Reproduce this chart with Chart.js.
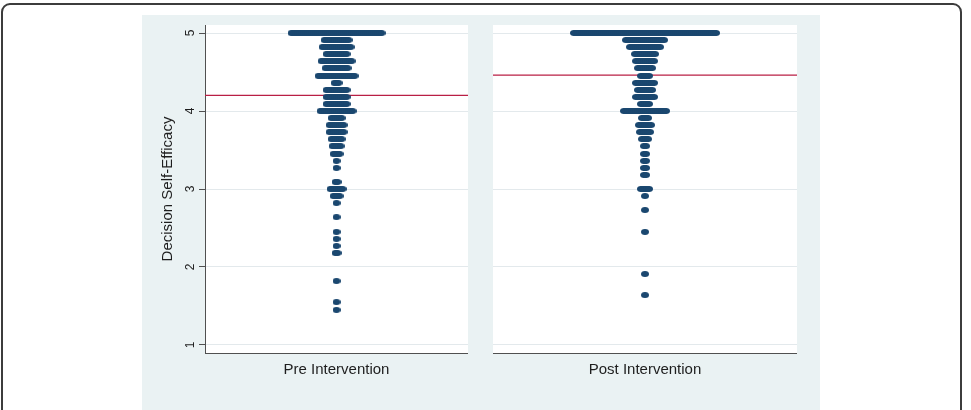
<!DOCTYPE html>
<html>
<head>
<meta charset="utf-8">
<title>Decision Self-Efficacy dot plot</title>
<script src="https://cdn.jsdelivr.net/npm/chart.js@4.4.1/dist/chart.umd.min.js"></script>
<style>
  html, body { margin: 0; padding: 0; background: #fff; }
  body { width: 971px; height: 410px; position: relative; overflow: hidden; }
  .frame  { position: absolute; left: 1px; top: 3px; width: 957px; height: 440px;
            border: 2px solid #3c3c3c; border-radius: 9px; }
  .region { position: absolute; left: 142px; top: 15px; width: 678px; height: 400px; background: #eaf2f3; }
  .panel  { position: absolute; top: 25px; }
  #preWrap  { left: 141px; }
  #postWrap { left: 493px; }
</style>
</head>
<body>
<div class="frame"></div>
<div class="region"></div>
<div class="panel" id="preWrap"><canvas id="preChart" width="327" height="363"></canvas></div>
<div class="panel" id="postWrap"><canvas id="postChart" width="304" height="363"></canvas></div>

<script>
// ── Data (score levels and number of respondents at each level) ──────
const preValues  = [5.00, 4.91, 4.82, 4.73, 4.64, 4.55, 4.45, 4.36, 4.27, 4.18, 4.09, 4.00,
                    3.91, 3.82, 3.73, 3.64, 3.55, 3.45, 3.36, 3.27, 3.09, 3.00, 2.91, 2.82,
                    2.64, 2.45, 2.36, 2.27, 2.18, 1.82, 1.55, 1.45];
const preCounts  = [46, 13, 15, 11, 16, 12, 19, 3, 11, 11, 11, 17,
                    6, 8, 8, 6, 5, 4, 1, 1, 2, 7, 4, 1,
                    1, 1, 1, 1, 2, 1, 1, 1];
const postValues = [5.00, 4.91, 4.82, 4.73, 4.64, 4.55, 4.45, 4.36, 4.27, 4.18, 4.09, 4.00,
                    3.91, 3.82, 3.73, 3.64, 3.55, 3.45, 3.36, 3.27, 3.18, 3.00, 2.91, 2.73,
                    2.45, 1.91, 1.64];
const postCounts = [72, 20, 16, 11, 10, 8, 5, 10, 8, 10, 5, 22,
                    4, 7, 6, 4, 2, 2, 2, 2, 2, 5, 1, 1,
                    1, 1, 1];
const preMean    = 4.20;
const postMean   = 4.46;
const groupLabels = ['Pre Intervention', 'Post Intervention'];
const yTicks     = [1, 2, 3, 4, 5];

// ── Look ──────────────────────────────────────────────────────────────
const FONT  = "'Liberation Sans', Arial, sans-serif";
const NAVY  = '#1a476f';
const RED   = '#b91f45';
const AXIS  = '#505050';
const GRID  = '#e3e9ec';
const TEXT  = '#1e1e1e';
const DOT_W = 8, DOT_H = 6;     // marker size, px
const DOT_STEP = 2;             // horizontal px between stacked dots
const Y_MIN = 0.8974, Y_MAX = 5.1026;

Chart.defaults.font.family = FONT;

function dotImage() {
  const c = document.createElement('canvas');
  c.width = DOT_W; c.height = DOT_H;
  const g = c.getContext('2d');
  g.fillStyle = NAVY;
  g.beginPath();
  g.ellipse(DOT_W / 2, DOT_H / 2, DOT_W / 2, DOT_H / 2, 0, 0, Math.PI * 2);
  g.fill();
  return c;
}
const DOT = dotImage();

// stack n dots side by side, centred on x = 0
function dotPoints(values, counts) {
  const pts = [];
  values.forEach((v, k) => {
    const n = counts[k];
    for (let i = 0; i < n; i++) pts.push({ x: i - (n - 1) / 2, y: v });
  });
  return pts;
}

// white plot area behind the marks
const panelBg = {
  id: 'panelBg',
  beforeDraw(chart) {
    const { ctx, chartArea: a } = chart;
    ctx.save();
    ctx.fillStyle = '#fff';
    ctx.fillRect(a.left, a.top, a.right - a.left, a.bottom - a.top);
    ctx.restore();
  }
};

// ── One panel ─────────────────────────────────────────────────────────
function makePanel(id, values, counts, mean, label, showY) {
  const canvas = document.getElementById(id);
  const yW = showY ? 64 : 0;
  const half = (canvas.width - yW) / (2 * DOT_STEP);

  return new Chart(canvas, {
    type: 'scatter',
    data: {
      datasets: [
        {
          type: 'scatter',
          data: dotPoints(values, counts),
          pointStyle: DOT,
          pointRadius: 4,
          pointHoverRadius: 4,
          order: 0,
        },
        {
          type: 'line',
          data: [{ x: -half, y: mean }, { x: half, y: mean }],
          borderColor: RED,
          borderWidth: 1.3,
          pointRadius: 0,
          fill: false,
          order: 1,
        }
      ]
    },
    options: {
      responsive: false,
      animation: false,
      layout: { padding: 0, autoPadding: false },
      plugins: { legend: { display: false }, tooltip: { enabled: false } },
      scales: {
        x: {
          type: 'linear', min: -half, max: half,
          grid: { display: false, drawTicks: false },
          border: { display: true, color: AXIS, width: 1 },
          ticks: { display: false },
          title: { display: true, text: label, color: TEXT,
                   font: { family: FONT, size: 15 }, padding: { top: 0, bottom: 9 } },
          afterFit: s => { s.height = 35; s.paddingLeft = 0; s.paddingRight = 0; }
        },
        y: {
          type: 'linear', min: Y_MIN, max: Y_MAX,
          afterBuildTicks: s => { s.ticks = yTicks.map(v => ({ value: v })); },
          grid: { color: GRID, lineWidth: 1, drawTicks: showY, tickLength: 6, tickColor: AXIS },
          border: { display: showY, color: AXIS, width: 1 },
          ticks: { display: showY, color: TEXT, font: { family: FONT, size: 12 },
                   minRotation: 90, maxRotation: 90, crossAlign: 'center', padding: 5 },
          title: { display: showY, text: 'Decision Self-Efficacy', color: TEXT,
                   font: { family: FONT, size: 15 }, padding: { top: 18, bottom: 0 } },
          afterFit: s => { s.width = yW; s.paddingTop = 0; s.paddingBottom = 0; }
        }
      }
    },
    plugins: [panelBg]
  });
}

makePanel('preChart',  preValues,  preCounts,  preMean,  groupLabels[0], true);
makePanel('postChart', postValues, postCounts, postMean, groupLabels[1], false);
</script>
</body>
</html>
